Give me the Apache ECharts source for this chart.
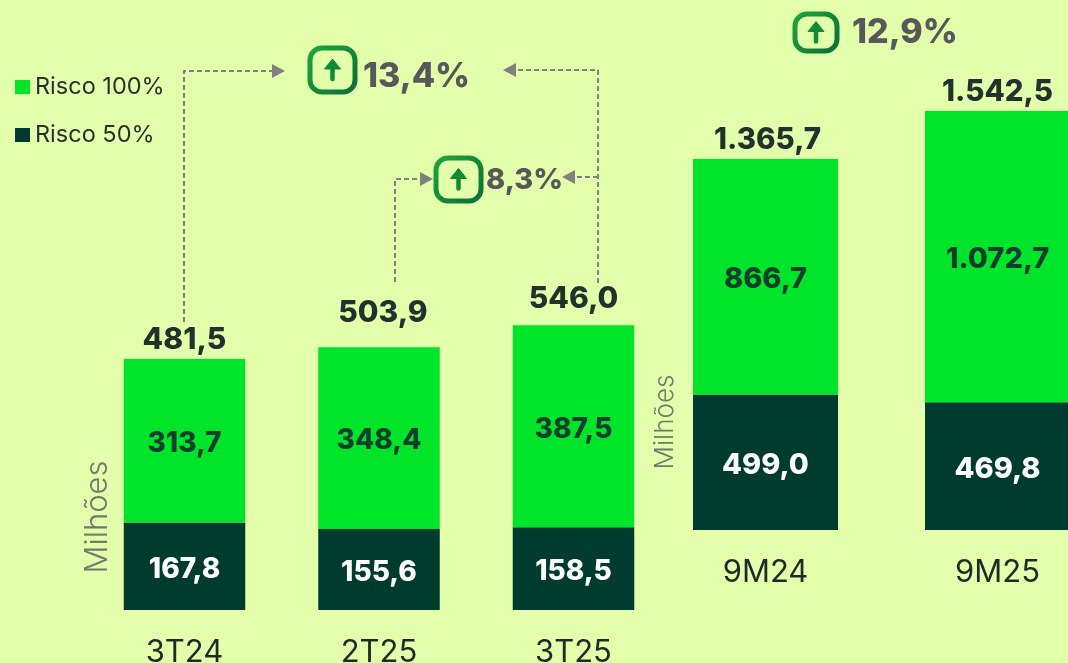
<!DOCTYPE html>
<html><head><meta charset="utf-8">
<style>html,body{margin:0;padding:0;background:#e3ffab}#c{width:1068px;height:663px}</style>
<script src="https://cdn.jsdelivr.net/npm/echarts@6/dist/echarts.min.js"></script>
</head><body><div id="c"></div>
<script>
const quarters = ['3T24','2T25','3T25'];
const quarterRisk50 = [167.8,155.6,158.5];
const quarterRisk100 = [313.7,348.4,387.5];
const quarterTotal = [481.5,503.9,546.0];
const periods = ['9M24','9M25'];
const periodRisk50 = [499.0,469.8];
const periodRisk100 = [866.7,1072.7];
const periodTotal = [1365.7,1542.5];
const FONT = 'Inter';
const GREEN = '#00e52a', DARK = '#003b2f', INK = '#1f332c', GREY = '#808082';
const fmt = v => v.toLocaleString('pt-BR',{minimumFractionDigits:1,maximumFractionDigits:1});

function barSeries(name,data,color,textColor,g,size,width){
  return {type:'bar',name,data,stack:'s'+g,xAxisIndex:g,yAxisIndex:g,barWidth:width,
    itemStyle:{color},
    label:{show:true,position:'inside',offset:[0,3],color:textColor,fontFamily:FONT,fontWeight:800,fontSize:size,
      formatter:p=>fmt(p.value)}};
}
function totalSeries(data,g,size,raise){
  return {type:'line',name:'Total',xAxisIndex:g,yAxisIndex:g,symbol:'circle',symbolSize:1,silent:true,
    data:data.map((value,i)=>({value,label:{offset:raise[i]}})),
    lineStyle:{width:0,color:'transparent'},itemStyle:{color:'transparent',borderWidth:0},z:5,
    label:{show:true,position:'top',distance:3,color:INK,fontFamily:FONT,fontWeight:800,fontSize:size,
      formatter:p=>fmt(p.value)}};
}
function badge(x,y,w,h){
  const cx=x+w/2, cy=y+h/2;
  return [
    {type:'rect',shape:{x,y,width:w,height:h,r:12},style:{fill:'transparent',lineWidth:5,
      stroke:new echarts.graphic.LinearGradient(0,0,1,1,[{offset:0,color:'#1fa83c'},{offset:1,color:'#0b6b36'}])}},
    {type:'polyline',shape:{points:[[cx,cy+9],[cx,cy-7]]},style:{stroke:'#0f8a35',lineWidth:4.5,lineCap:'round',fill:null}},
    {type:'polygon',shape:{points:[[cx,cy-11],[cx+8,cy-1],[cx-8,cy-1]]},style:{fill:'#0f8a35',stroke:'#0f8a35',lineWidth:1,lineJoin:'round'}}
  ];
}
function pct(text,x,y,size){
  return {type:'text',x,y,style:{text,fontFamily:FONT,fontWeight:800,fontSize:size,fill:'#58585a',textVerticalAlign:'middle',textAlign:'left'}};
}
function connector(points){
  const n=points.length, a=points[n-2], b=points[n-1], d=Math.sign(b[0]-a[0]);
  return [
    {type:'polyline',shape:{points},style:{stroke:GREY,lineWidth:2,lineDash:[5,3],fill:null}},
    {type:'polygon',shape:{points:[[b[0]+13*d,b[1]],[b[0],b[1]-7],[b[0],b[1]+7]]},style:{fill:GREY}}
  ];
}
function vtext(text,x,y,size){
  return {type:'text',x,y,rotation:Math.PI/2,style:{text,fontFamily:FONT,fontWeight:300,fontSize:size,fill:'#6c7c6c',textAlign:'center',textVerticalAlign:'middle'}};
}

const chart = echarts.init(document.getElementById('c'),null,{renderer:'canvas'});
chart.setOption({
  animation:false,
  backgroundColor:'#e3ffab',
  legend:{data:[{name:'Risco 100%'},{name:'Risco 50%'}],orient:'vertical',left:10,top:70,itemWidth:15,itemHeight:14,itemGap:24,
    icon:'rect',textStyle:{fontFamily:FONT,fontWeight:400,fontSize:23.5,color:'#1f332c'},selectedMode:false},
  grid:[
    {left:87.25,width:583.5,top:297.2,height:312.8,outerBoundsMode:'none'},
    {left:649.5,width:464,top:95.3,height:434.7,outerBoundsMode:'none'}
  ],
  xAxis:[
    {type:'category',gridIndex:0,data:quarters,axisLine:{show:false},axisTick:{show:false},
      axisLabel:{fontFamily:FONT,fontWeight:400,fontSize:31,color:'#1f2a26',margin:27}},
    {type:'category',gridIndex:1,data:periods,axisLine:{show:false},axisTick:{show:false},
      axisLabel:{fontFamily:FONT,fontWeight:400,fontSize:31,color:'#1f2a26',margin:27}}
  ],
  yAxis:[
    {type:'value',gridIndex:0,min:0,max:600,show:false},
    {type:'value',gridIndex:1,min:0,max:1600,show:false}
  ],
  series:[
    barSeries('Risco 50%',quarterRisk50,DARK,'#fff',0,28,121.5),
    barSeries('Risco 100%',quarterRisk100,GREEN,'#0f3d2e',0,28,121.5),
    totalSeries(quarterTotal,0,30,[[0,0],[4,-16],[0,-8]]),
    barSeries('Risco 50%',periodRisk50,DARK,'#fff',1,29,145),
    barSeries('Risco 100%',periodRisk100,GREEN,'#0f3d2e',1,29,145),
    totalSeries(periodTotal,1,29.5,[[2,0],[0,0]])
  ],
  graphic:{elements:[
    ...connector([[184,322],[184,71],[272,71]]),
    ...connector([[598,283],[598,70],[516,70]]),
    ...connector([[395,282],[395,179],[420,179]]),
    ...connector([[598,177],[575,177]]),
    ...badge(310,48,45,44),
    ...badge(436,158,45,43),
    ...badge(795,14,42,37),
    pct('13,4%',363,77,34),
    pct('8,3%',486,180,29),
    pct('12,9%',852,33,34),
    vtext('Milhões',98,517,31),
    vtext('Milhões',665,422,26)
  ]}
});
</script></body></html>
